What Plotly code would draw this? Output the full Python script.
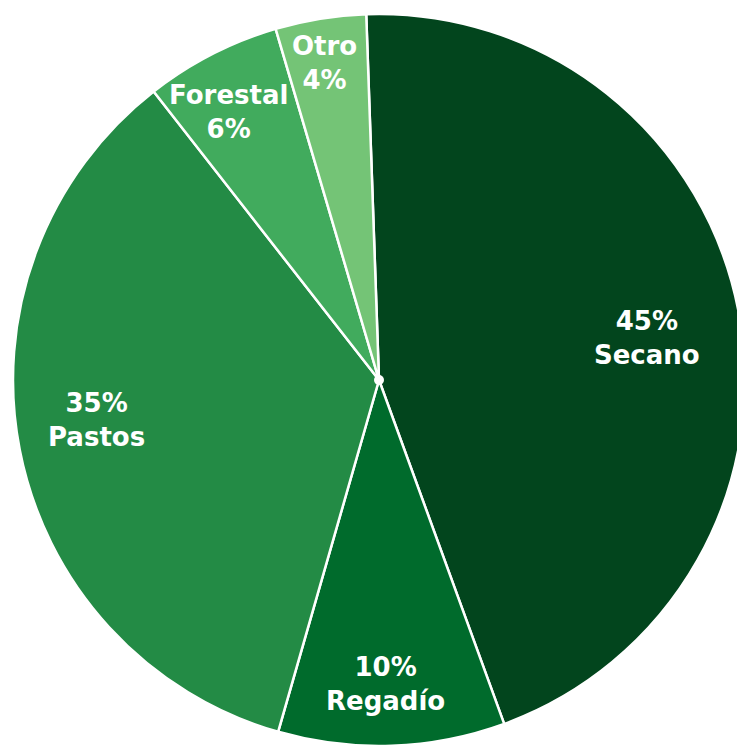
import math
import plotly.graph_objects as go

# ---- data ----
labels = ["Secano", "Regadío", "Pastos", "Forestal", "Otro"]
values = [45, 10, 35, 6, 4]
percent_first = [True, True, True, False, False]

# ---- style ----
colors = ["#02451d", "#006b2c", "#238b45", "#41ab5d", "#74c476"]
label_radius = [0.74, 0.83, 0.78, 0.84, 0.88]   # fraction of pie radius
label_nudge = [2.0, 0.7, 2.9, -2.1, -0.6]        # degrees
rotation = -2

W, H = 746, 746
ML, MR, MT, MB = 12, 0, 14, 0
gw, gh = W - ML - MR, H - MT - MB
R = min(gw, gh) / 2.0

fig = go.Figure(go.Pie(
    labels=labels,
    values=values,
    sort=False,
    direction="clockwise",
    rotation=rotation,
    marker=dict(colors=colors, line=dict(color="white", width=2.5)),
    textinfo="none",
    hoverinfo="label+percent",
    domain=dict(x=[0, 1], y=[0, 1]),
    showlegend=False,
))

total = sum(values)
cum = 0
annotations = []
for lab, v, pf, f, nd in zip(labels, values, percent_first, label_radius, label_nudge):
    mid = rotation + (cum + v / 2.0) / total * 360.0 + nd
    cum += v
    a = math.radians(mid)
    dx = f * R * math.sin(a)
    dy = f * R * math.cos(a)
    pct = f"{round(v / total * 100)}%"
    txt = f"{pct}<br>{lab}" if pf else f"{lab}<br>{pct}"
    annotations.append(dict(
        x=0.5 + dx / gw, y=0.5 + dy / gh, xref="paper", yref="paper",
        text=txt, showarrow=False, xanchor="center", yanchor="middle",
        align="center",
        font=dict(family="DejaVu Sans", size=26, color="white", weight="bold"),
    ))

fig.update_layout(
    width=W, height=H,
    margin=dict(l=ML, r=MR, t=MT, b=MB, pad=0),
    paper_bgcolor="white", plot_bgcolor="white",
    annotations=annotations,
    shapes=[dict(type="circle", xref="paper", yref="paper",
                 xsizemode="pixel", ysizemode="pixel",
                 xanchor=0.5, yanchor=0.5, x0=-5, x1=5, y0=-5, y1=5,
                 fillcolor="white", line=dict(width=0))],
)

fig.write_html(
    "out.html",
    post_script="document.documentElement.style.overflow='hidden';"
                "document.body.style.overflow='hidden';"
                "document.body.style.margin='0';",
)
